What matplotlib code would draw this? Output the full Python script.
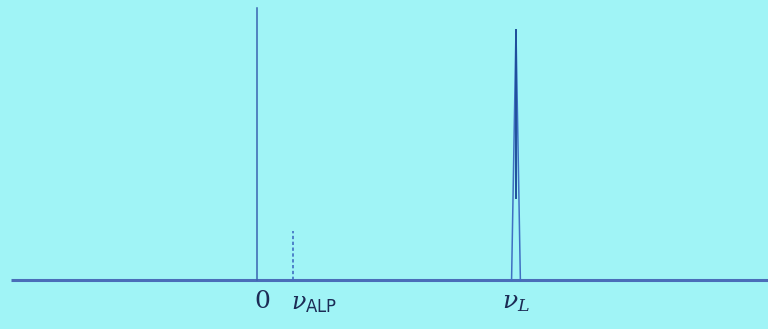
import matplotlib.pyplot as plt

# frequency positions (units of nu_L)
nu_zero = 0.0
nu_alp = 0.14
nu_l = 1.0
peak_halfwidth = 0.017

# heights (relative)
h_zero = 1.0
h_alp = 0.18
h_l = 0.92

tick_pos = [nu_zero, nu_alp, nu_l]
tick_labels = ['0', r'$\nu_{\mathsf{ALP}}$', r'$\nu_L$']

bg = '#a0f4f6'
line_col = '#3f6fc2'

plt.rcParams['mathtext.fontset'] = 'dejavuserif'

fig = plt.figure(figsize=(7.68, 3.29), dpi=100, facecolor=bg)
ax = fig.add_axes([0, 0, 1, 1])
ax.set_facecolor(bg)
ax.set_xlim(-0.992, 1.973)
ax.set_ylim(-0.18, 1.03)
ax.axis('off')

# frequency axis
ax.plot([-0.95, 1.973], [0, 0], color='#4a6db8', lw=2.2, solid_capstyle='butt')

# line at zero frequency
ax.plot([nu_zero, nu_zero], [0, h_zero], color='#3a64b0', lw=1.1)

# ALP line (dashed)
ax.plot([nu_alp, nu_alp], [0, h_alp], color=line_col, lw=1.2, ls=(0, (2, 1.5)))

# narrow peak at nu_L
ax.plot([nu_l - peak_halfwidth, nu_l, nu_l + peak_halfwidth], [0, h_l, 0],
        color=line_col, lw=1.1)
ax.plot([nu_l, nu_l], [0.3, h_l], color='#1f4f9a', lw=1.4)

# labels under the axis
ax.text(tick_pos[0] + 0.02, -0.08, tick_labels[0], ha='center', va='center',
        fontsize=18, family='DejaVu Serif', color='#1c2c55')
ax.text(tick_pos[1] - 0.01, -0.085, tick_labels[1], ha='left', va='center',
        fontsize=17, color='#1c2c55')
ax.text(tick_pos[2] + 0.0, -0.08, tick_labels[2], ha='center', va='center',
        fontsize=18, color='#1c2c55')

fig.savefig('out.png', dpi=100, facecolor=bg)
